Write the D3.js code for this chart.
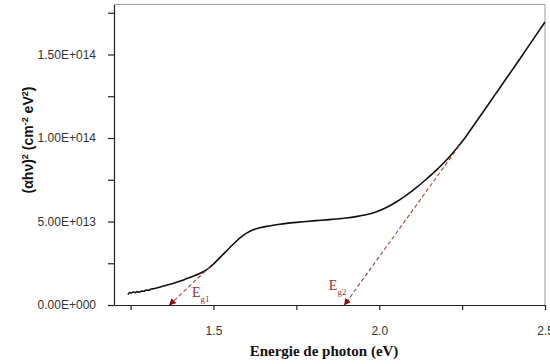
<!DOCTYPE html>
<html><head><meta charset="utf-8">
<script src="https://cdn.jsdelivr.net/npm/d3@7"></script>
<style>body{margin:0;background:#fff}svg{display:block}</style>
</head><body>
<svg id="c" width="550" height="364"></svg>
<script>
const energy = [1.242,1.247,1.252,1.258,1.264,1.27,1.276,1.283,1.29,1.297,1.305,1.312,1.32,1.34,1.36,1.38,1.40,1.42,1.44,1.46,1.48,1.50,1.52,1.54,1.56,1.58,1.60,1.62,1.64,1.66,1.68,1.70,1.72,1.75,1.78,1.81,1.84,1.87,1.90,1.93,1.96,1.99,2.02,2.05,2.08,2.11,2.14,2.17,2.20,2.23,2.26,2.29,2.32,2.35,2.38,2.41,2.44,2.47,2.50];
const alphaHv2 = [0.62e13,0.75e13,0.72e13,0.78e13,0.74e13,0.80e13,0.77e13,0.83e13,0.82e13,0.90e13,0.88e13,0.96e13,0.97e13,1.08e13,1.2e13,1.3e13,1.43e13,1.58e13,1.73e13,1.9e13,2.12e13,2.45e13,2.85e13,3.25e13,3.65e13,4.02e13,4.3e13,4.5e13,4.62e13,4.71e13,4.78e13,4.84e13,4.89e13,4.95e13,5.0e13,5.05e13,5.1e13,5.15e13,5.21e13,5.29e13,5.4e13,5.57e13,5.82e13,6.15e13,6.55e13,7.0e13,7.5e13,8.03e13,8.62e13,9.3e13,10.05e13,10.9e13,11.75e13,12.61e13,13.47e13,14.33e13,15.2e13,16.07e13,16.95e13];
const tangent1 = [[1.49,2.3e13],[1.367,0]];
const tangent2 = [[2.24,9.5e13],[1.895,0]];
const xMajor = [1.5,2.0,2.5];
const xMinor = [1.25,1.75,2.25];
const yMajor = [0,5e13,1e14,1.5e14];
const yMinor = [2.5e13,7.5e13,1.25e14,1.75e14];
const gapLabels = [{t:"g1", e:1.435, v:0.5e13},{t:"g2", e:1.848, v:0.9e13}];

const svg = d3.select("#c");
const L=114, R=545, T=4.4, B=305;
const x = d3.scaleLinear().domain([1.2,2.5]).range([L,R]);
const y = d3.scaleLinear().domain([0,1.8e14]).range([B,T]);
const SANS = "'Liberation Sans', Arial, sans-serif";
const SERIF = "'Liberation Serif', 'Times New Roman', serif";

function sci(v){
  if(v===0) return "0.00E+000";
  const s=v.toExponential(2).split("e");
  const ex=parseInt(s[1]);
  return s[0]+"E"+(ex<0?"-":"+")+String(Math.abs(ex)).padStart(3,"0");
}

// frame top/right
svg.append("line").attr("x1",L).attr("x2",R).attr("y1",T).attr("y2",T).attr("stroke","#9a9a9a").attr("stroke-width",1);
svg.append("line").attr("x1",R).attr("x2",R).attr("y1",T).attr("y2",B).attr("stroke","#9a9a9a").attr("stroke-width",1);

// x axis
svg.append("g").attr("transform",`translate(0,${B})`)
  .call(d3.axisBottom(x).tickValues(xMajor).tickFormat(d3.format(".1f")).tickSize(5).tickPadding(16).tickSizeOuter(0));
svg.append("g").attr("transform",`translate(0,${B})`)
  .call(d3.axisBottom(x).tickValues(xMinor).tickFormat("").tickSize(5).tickSizeOuter(0))
  .select(".domain").remove();
// y axis
svg.append("g").attr("transform",`translate(${L},0)`)
  .call(d3.axisLeft(y).tickValues(yMajor).tickFormat(sci).tickSize(6).tickPadding(12).tickSizeOuter(0));
svg.append("g").attr("transform",`translate(${L},0)`)
  .call(d3.axisLeft(y).tickValues(yMinor).tickFormat("").tickSize(6).tickSizeOuter(0))
  .select(".domain").remove();
svg.selectAll(".tick text").attr("font-family",SANS).attr("font-size",12).attr("fill","#333");
svg.selectAll(".domain, .tick line").attr("stroke","#222").attr("stroke-width",1.2);

// curve
const pts = energy.map((e,i)=>[e,alphaHv2[i]]);
svg.append("path").datum(pts)
  .attr("d",d3.line().x(d=>x(d[0])).y(d=>y(d[1])).curve(d3.curveMonotoneX))
  .attr("fill","none").attr("stroke","#111").attr("stroke-width",1.6);

// arrow marker
svg.append("defs").append("marker").attr("id","ah").attr("viewBox","0 0 10 10")
  .attr("refX",9).attr("refY",5).attr("markerWidth",7).attr("markerHeight",7)
  .attr("markerUnits","userSpaceOnUse").attr("orient","auto")
  .append("path").attr("d","M0,0L10,5L0,10Z").attr("fill","#8b0d0d");

[tangent1,tangent2].forEach(t=>{
  svg.append("path").datum(t)
    .attr("d",d3.line().x(d=>x(d[0])).y(d=>y(d[1])))
    .attr("fill","none").attr("stroke","#a8403c").attr("stroke-width",1.1)
    .attr("stroke-dasharray","4,2.5").attr("marker-end","url(#ah)");
});

// E_g labels
gapLabels.forEach(g=>{
  const t = svg.append("text").attr("x",x(g.e)).attr("y",y(g.v))
    .attr("font-family",SERIF).attr("font-size",14).attr("fill","#9b2e2e");
  t.append("tspan").text("E");
  t.append("tspan").attr("font-size",9).attr("dy",5).text(g.t);
});

// axis titles
svg.append("text").attr("x",324).attr("y",356).attr("text-anchor","middle")
  .attr("font-family",SERIF).attr("font-weight","bold").attr("font-size",15).attr("fill","#111")
  .text("Energie de photon (eV)");
const yt = svg.append("text").attr("transform","translate(33,140) rotate(-90)").attr("text-anchor","middle")
  .attr("font-family",SANS).attr("font-weight","bold").attr("font-size",14).attr("fill","#111");
yt.append("tspan").text("(αhν)");
yt.append("tspan").attr("font-size",9).attr("dy",-5).text("2");
yt.append("tspan").attr("dy",5).text(" (cm");
yt.append("tspan").attr("font-size",9).attr("dy",-5).text("-2");
yt.append("tspan").attr("dy",5).text(" eV");
yt.append("tspan").attr("font-size",9).attr("dy",-5).text("2");
yt.append("tspan").attr("dy",5).text(")");
</script>
</body></html>
